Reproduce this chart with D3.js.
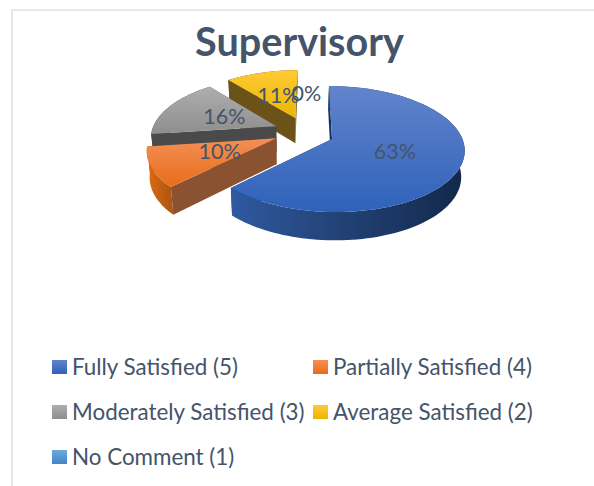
<!DOCTYPE html>
<html>
<head>
<meta charset="utf-8">
<script src="https://cdn.jsdelivr.net/npm/d3@7"></script>
<style>
  html, body { margin: 0; padding: 0; background: #fff; }
  svg { display: block; }
  text { font-family: Lato, "Open Sans", sans-serif; fill: #44546a; }
</style>
</head>
<body>
<svg id="chart" width="594" height="486"></svg>
<script>
// 数据
var categories = ['Fully Satisfied (5)', 'Partially Satisfied (4)', 'Moderately Satisfied (3)', 'Average Satisfied (2)', 'No Comment (1)']
var values = [62.5, 10.4, 16.1, 11, 0]
var chartTitle = 'Supervisory'

// 每个扇区的颜色：顶面渐变、外壁渐变、切面
var topColors = [['#6384cc', '#2e62b9'], ['#f48f55', '#e86c19'], ['#aeaeae', '#8e8e8e'], ['#ffca35', '#e9b600'], ['#6fa8dc', '#3f86c6']]
var wallColors = [['#30599f', '#122849'], ['#e06c12', '#a85410'], ['#4a4a4a', '#4a4a4a'], ['#6b5318', '#6b5318'], ['#2f6a9e', '#2f6a9e']]
var cutColors = ['#16305c', '#8a5230', '#4a4a4a', '#6b5318', '#2f6a9e']

var svg = d3.select('#chart')
var defs = svg.append('defs')

// 透视参数
var originX = 332
var originY = 139
var vanishX = 310
var radiusX = 130.4
var radiusY = 61.4
var persp = 0.159
var depth = 26
var explode = 0.254
var pieU = -0.2
var pieV = -0.123
// 分离出去的扇区横向略窄
var sliceWidth = 0.975

var pie = d3.pie().sort(null).value((d) => d)
var arcs = pie(values)

// 圆盘坐标 -> 屏幕坐标，lowered 为 true 时取底面
function project(u, v, lowered) {
  var w = 1 - persp * v
  var x = vanishX + (originX - vanishX + radiusX * u) / w
  var y = originY + (radiusY * v) / w
  if (lowered) {
    x = 290 + (x - 290) * 0.98
    y = y + depth / Math.sqrt(w)
  }
  return [x, y]
}

function apexOf(d) {
  // 蓝色扇区顶点固定在 origin 上
  if (d.index === 0) return [0, 0]
  var mid = (d.startAngle + d.endAngle) / 2
  return [pieU + explode * Math.sin(mid), pieV - explode * Math.cos(mid)]
}

function rimOf(d) {
  var apex = apexOf(d)
  var k = d.index === 0 ? 1 : sliceWidth
  var n = Math.max(2, Math.ceil((d.endAngle - d.startAngle) * 30))
  return d3.range(n + 1).map((i) => {
    var a = d.startAngle + ((d.endAngle - d.startAngle) * i) / n
    return [apex[0] + k * Math.sin(a), apex[1] - Math.cos(a)]
  })
}

var line = d3.line()

function addGradient(id, colors, horizontal) {
  var g = defs.append('linearGradient').attr('id', id)
    .attr('x1', 0).attr('y1', 0)
    .attr('x2', horizontal ? 1 : 0).attr('y2', horizontal ? 0 : 1)
  g.append('stop').attr('offset', '0%').attr('stop-color', colors[0])
  g.append('stop').attr('offset', '100%').attr('stop-color', colors[1])
}

categories.forEach((c, i) => {
  addGradient('top' + i, topColors[i], false)
  addGradient('wall' + i, wallColors[i], true)
})

// 外框
svg.append('path')
  .attr('d', 'M12,486V10H594')
  .attr('fill', 'none')
  .attr('stroke', '#e4e8ee')
  .attr('stroke-width', 2)

// 标题
svg.append('text')
  .attr('x', 299.5)
  .attr('y', 56)
  .attr('text-anchor', 'middle')
  .attr('font-size', 39.6)
  .attr('font-weight', 700)
  .text(chartTitle)

// 从后往前画：黄、灰、橙、蓝
var drawOrder = [3, 2, 1, 0]
var pieG = svg.append('g')

drawOrder.forEach((i) => {
  var d = arcs[i]
  var apex = apexOf(d)
  var rim = rimOf(d)
  var first = rim[0]
  var last = rim[rim.length - 1]
  var g = pieG.append('g').attr('data-id', categories[i])

  // 切面
  ;[first, last].forEach((p) => {
    var quad = [project(apex[0], apex[1]), project(p[0], p[1]), project(p[0], p[1], true), project(apex[0], apex[1], true)]
    g.append('path').attr('d', line(quad) + 'Z').attr('fill', cutColors[i])
  })

  // 外壁
  var wall = rim.map((p) => project(p[0], p[1])).concat(rim.slice().reverse().map((p) => project(p[0], p[1], true)))
  g.append('path').attr('d', line(wall) + 'Z').attr('fill', 'url(#wall' + i + ')')

  // 顶面
  var top = [project(apex[0], apex[1])].concat(rim.map((p) => project(p[0], p[1])))
  g.append('path').attr('d', line(top) + 'Z').attr('fill', 'url(#top' + i + ')')
})

// 数据标签
arcs.forEach((d) => {
  var apex = apexOf(d)
  var mid = (d.startAngle + d.endAngle) / 2
  var r = d.index === 0 ? 0.5 : 0.46
  var p = project(apex[0] + r * Math.sin(mid), apex[1] - r * Math.cos(mid))
  svg.append('text')
    .attr('x', p[0])
    .attr('y', p[1])
    .attr('dy', '0.35em')
    .attr('text-anchor', 'middle')
    .attr('font-size', 21.5)
    .text(Math.round(d.value) + '%')
})

// 图例
var legendCols = [52, 313]
var legendRows = [367, 412, 457]
categories.forEach((c, i) => {
  var x = legendCols[i % 2]
  var y = legendRows[Math.floor(i / 2)]
  svg.append('rect')
    .attr('x', x).attr('y', y - 7)
    .attr('width', 15).attr('height', 14)
    .attr('fill', 'url(#top' + i + ')')
  svg.append('text')
    .attr('x', x + 20)
    .attr('y', y)
    .attr('dy', '0.35em')
    .attr('font-size', 22.4)
    .text(c)
})
</script>
</body>
</html>
